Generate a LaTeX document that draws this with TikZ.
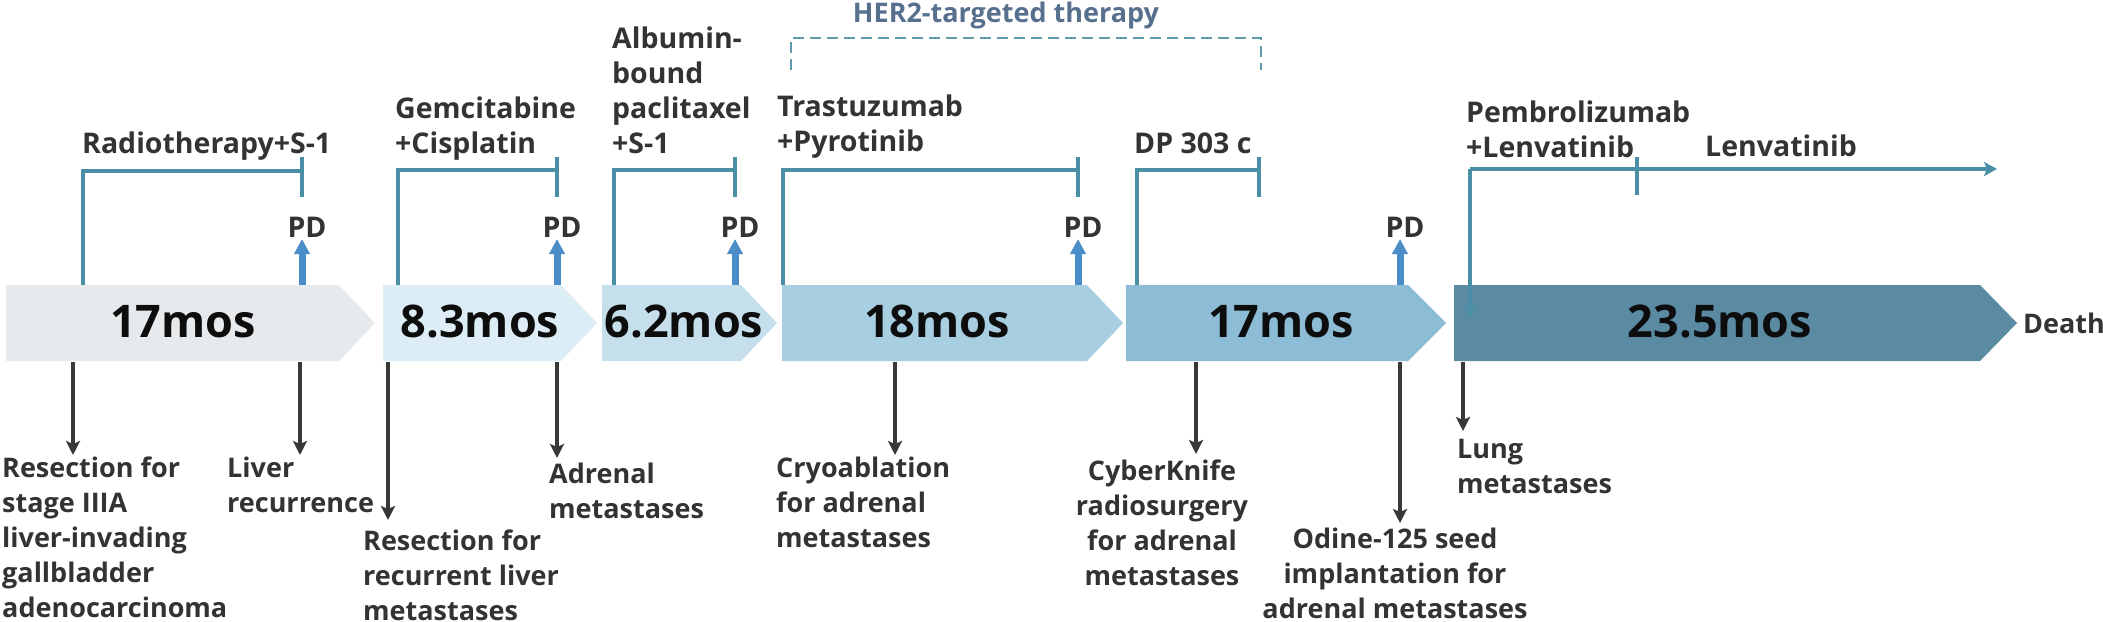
\documentclass[tikz,border=0pt]{standalone}
\usepackage{fontspec}
\setmainfont{Open Sans}
\usetikzlibrary{arrows.meta}
\definecolor{chA}{HTML}{E7EAED}
\definecolor{chB}{HTML}{DDEDF6}
\definecolor{chC}{HTML}{C5DFEC}
\definecolor{chD}{HTML}{A8CEE2}
\definecolor{chE}{HTML}{8CBCD6}
\definecolor{chF}{HTML}{5B8AA3}
\definecolor{teal}{HTML}{4B8FA6}
\definecolor{herc}{HTML}{5E9CAD}
\definecolor{hert}{HTML}{56708E}
\definecolor{pdblue}{HTML}{4A8DC8}
\definecolor{txtdark}{HTML}{333333}
\definecolor{arrdark}{HTML}{383838}
\newcommand{\mychev}[4]{\fill[#4] (#1,285) -- (#2,285) -- (#3,323) -- (#2,361) -- (#1,361) -- cycle;}
\newcommand{\fl}{\rule{0pt}{21pt}}
\newcommand{\flt}{\rule{0pt}{22pt}}
\begin{document}
\begin{tikzpicture}[x=1pt,y=-1pt,
  lbl/.style={font=\fontsize{27}{35}\selectfont\bfseries, text=txtdark, inner sep=0pt, align=left, anchor=north west},
  tlbl/.style={lbl, font=\fontsize{28.5}{35}\selectfont\bfseries},
  clbl/.style={lbl, align=center, anchor=north},
  slbl/.style={font=\fontsize{27}{35}\selectfont\bfseries, text=txtdark, inner sep=0pt},
  tslbl/.style={slbl, font=\fontsize{28.5}{35}\selectfont\bfseries},
  big/.style={font=\fontsize{45}{50}\selectfont\bfseries, text=black!95, inner sep=0pt, anchor=base},
  brk/.style={draw=teal, line width=4pt},
  tick/.style={draw=teal, line width=4pt, line cap=butt},
  pdarr/.style={draw=pdblue, line width=7pt, -{Triangle[length=15pt,width=15pt]}},
  downarr/.style={draw=arrdark, line width=3.5pt, -{Stealth[length=14pt,width=14pt,inset=3pt]}},
  tealarr/.style={draw=teal, line width=4pt, -{Stealth[length=13pt,width=14pt,inset=3pt]}},
  herdash/.style={draw=herc, line width=2.5pt, dash pattern=on 11pt off 6pt}
]
\useasboundingbox (0,0) rectangle (2103,621);
\fill[white] (0,0) rectangle (2103,621);
% chevrons
\mychev{6}{339}{375}{chA}
\mychev{383}{561}{597}{chB}
\mychev{602}{741}{777}{chC}
\mychev{782}{1087}{1123}{chD}
\mychev{1126}{1408}{1446}{chE}
\mychev{1454}{1980}{2017}{chF}
% chevron texts
\node[big] (m1) at (183,337) {17mos};
\node[big] (m2) at (480,337) {8.3mos};
\node[big] (m3) at (684,337) {6.2mos};
\node[big] (m4) at (937,337) {18mos};
\node[big] (m5) at (1281,337) {17mos};
\node[big] (m6) at (1720,337) {23.5mos};
\node[slbl, anchor=base west] (death) at (2023,333) {Death};
% HER2 bracket
\node[slbl, anchor=base, text=hert] (her) at (1006,22) {HER2-targeted therapy};
\coordinate (hl) at (791,70);
\coordinate (hm) at (1261,38);
\coordinate (hr) at (1261,70);
\draw[herdash] (hl) |- (hm) -- (hr);
% top labels
\node[tlbl] (l1) at (82,131) {\flt Radiotherapy+S-1};
\node[tlbl] (l2) at (395,96) {\flt Gemcitabine\\+Cisplatin};
\node[tlbl] (l3) at (612,26) {\flt Albumin-\\bound\\paclitaxel\\+S-1};
\node[tlbl] (l4) at (777,94) {\flt Trastuzumab\\+Pyrotinib};
\node[tslbl, anchor=base west] (l5) at (1134,153) {DP 303 c};
\node[tlbl] (l6) at (1466,100) {\flt Pembrolizumab\\+Lenvatinib};
\node[tslbl, anchor=base west] (l7) at (1705,156) {Lenvatinib};
% bracket coordinates
\coordinate (b1a) at (83,285);  \coordinate (b1b) at (302,171);
\coordinate (b2a) at (398,285); \coordinate (b2b) at (557,170);
\coordinate (b3a) at (614,285); \coordinate (b3b) at (735,170);
\coordinate (b4a) at (783,285); \coordinate (b4b) at (1078,170);
\coordinate (b5a) at (1137,285);\coordinate (b5b) at (1259,170);
\draw[brk] (b1a) |- (b1b);
\draw[brk] (b2a) |- (b2b);
\draw[brk] (b3a) |- (b3b);
\draw[brk] (b4a) |- (b4b);
\draw[brk] (b5a) |- (b5b);
\foreach \n/\x in {t1/302,t2/557,t3/735,t4/1078,t5/1259}{
  \coordinate (\n u) at (\x,157); \coordinate (\n d) at (\x,197);
  \draw[tick] (\n u) -- (\n d);
}
% last bracket
\coordinate (b6a) at (1470,169);
\coordinate (b6d) at (1470,318);
\coordinate (b6e) at (1997,169);
\draw[tealarr] (b6a) -- (b6d);
\draw[tealarr] (b6a) -- (b6e);
\coordinate (t6u) at (1637,157); \coordinate (t6d) at (1637,195);
\draw[tick] (t6u) -- (t6d);
% PD
\foreach \n/\x in {1/302,2/557,3/735,4/1078,5/1400}{
  \node[tslbl, anchor=base] (pd\n) at (\x+5,237) {PD};
  \coordinate (pa\n) at (\x,285);
  \coordinate (pb\n) at (\x,239);
  \draw[pdarr] (pa\n) -- (pb\n);
}
% bottom labels
\node[lbl] (d1) at (2,456) {\fl Resection for\\stage IIIA\\liver-invading\\gallbladder\\adenocarcinoma};
\node[lbl] (d2) at (227,456) {\fl Liver\\recurrence};
\node[lbl] (d3) at (363,529) {\fl Resection for\\recurrent liver\\metastases};
\node[lbl] (d4) at (549,462) {\fl Adrenal\\metastases};
\node[lbl] (d5) at (776,456) {\fl Cryoablation\\for adrenal\\metastases};
\node[clbl] (d6) at (1162,459) {\fl CyberKnife\\radiosurgery\\for adrenal\\metastases};
\node[clbl] (d7) at (1395,527) {\fl Odine-125 seed\\implantation for\\adrenal metastases};
\node[lbl] (d8) at (1457,437) {\fl Lung\\metastases};
% bottom arrows
\foreach \n/\x/\y in {1/73/455,2/300/455,3/388/520,4/557/458,5/895/455,6/1196/454,7/1400/523,8/1463/431}{
  \coordinate (ds\n) at (\x,362);
  \coordinate (de\n) at (\x,\y);
  \draw[downarr] (ds\n) -- (de\n);
}
\end{tikzpicture}
\end{document}
